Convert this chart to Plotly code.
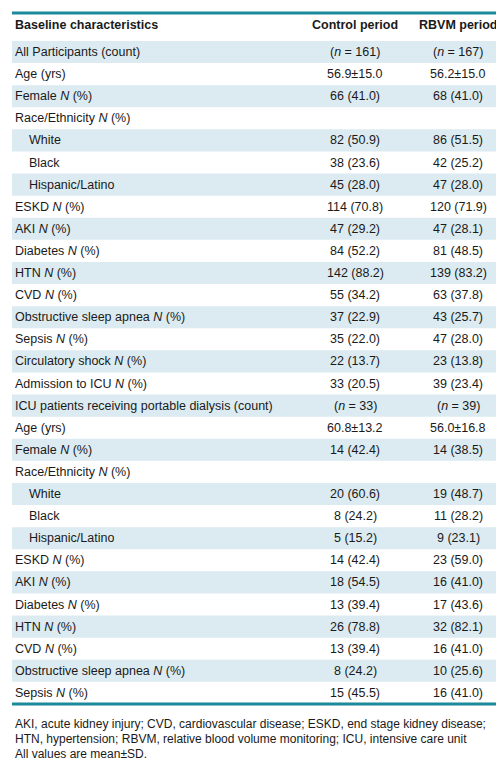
import plotly.graph_objects as go

NB = "\u00a0" * 4
labels = [
    "All Participants (count)", "Age (yrs)", "Female <i>N</i> (%)", "Race/Ethnicity <i>N</i> (%)",
    NB + "White", NB + "Black", NB + "Hispanic/Latino",
    "ESKD <i>N</i> (%)", "AKI <i>N</i> (%)", "Diabetes <i>N</i> (%)", "HTN <i>N</i> (%)", "CVD <i>N</i> (%)",
    "Obstructive sleep apnea <i>N</i> (%)", "Sepsis <i>N</i> (%)", "Circulatory shock <i>N</i> (%)",
    "Admission to ICU <i>N</i> (%)", "ICU patients receiving portable dialysis (count)",
    "Age (yrs)", "Female <i>N</i> (%)", "Race/Ethnicity <i>N</i> (%)",
    NB + "White", NB + "Black", NB + "Hispanic/Latino",
    "ESKD <i>N</i> (%)", "AKI <i>N</i> (%)", "Diabetes <i>N</i> (%)", "HTN <i>N</i> (%)", "CVD <i>N</i> (%)",
    "Obstructive sleep apnea <i>N</i> (%)", "Sepsis <i>N</i> (%)",
]
control = [
    "(<i>n</i> = 161)", "56.9±15.0", "66 (41.0)", "", "82 (50.9)", "38 (23.6)", "45 (28.0)",
    "114 (70.8)", "47 (29.2)", "84 (52.2)", "142 (88.2)", "55 (34.2)", "37 (22.9)", "35 (22.0)",
    "22 (13.7)", "33 (20.5)", "(<i>n</i> = 33)", "60.8±13.2", "14 (42.4)", "",
    "20 (60.6)", "8 (24.2)", "5 (15.2)", "14 (42.4)", "18 (54.5)", "13 (39.4)", "26 (78.8)",
    "13 (39.4)", "8 (24.2)", "15 (45.5)",
]
rbvm = [
    "(<i>n</i> = 167)", "56.2±15.0", "68 (41.0)", "", "86 (51.5)", "42 (25.2)", "47 (28.0)",
    "120 (71.9)", "47 (28.1)", "81 (48.5)", "139 (83.2)", "63 (37.8)", "43 (25.7)", "47 (28.0)",
    "23 (13.8)", "39 (23.4)", "(<i>n</i> = 39)", "56.0±16.8", "14 (38.5)", "",
    "19 (48.7)", "11 (28.2)", "9 (23.1)", "23 (59.0)", "16 (41.0)", "17 (43.6)", "32 (82.1)",
    "16 (41.0)", "10 (25.6)", "16 (41.0)",
]
headers = ["<b>Baseline characteristics</b>", "<b>Control period</b>", "<b>RBVM period</b>"]
foot = ["AKI, acute kidney injury; CVD, cardiovascular disease; ESKD, end stage kidney disease;",
        "HTN, hypertension; RBVM, relative blood volume monitoring; ICU, intensive care unit",
        "All values are mean±SD."]

W, H = 504, 762
RH = 22.1  # row height in px
y0 = 44    # pixel centre of first row
def ry(px):
    return (px - y0) / RH

teal = "#1b8a9a"
stripe = "#dcebf1"
font = dict(family="Liberation Sans, Arial", size=12.5, color="#1a1a1a")
col_x = [5, 347, 450]

fig = go.Figure()
for i in range(len(labels)):
    if i % 2 == 0:
        fig.add_shape(type="rect", x0=4, x1=500, y0=i - 0.5, y1=i + 0.5,
                      fillcolor=stripe, line_width=0, layer="below")
for col, vals in enumerate([labels, control, rbvm]):
    for i, v in enumerate(vals):
        if v:
            fig.add_annotation(x=col_x[col], y=i, text=v, showarrow=False, font=font,
                               xanchor="left" if col == 0 else "center", yanchor="middle")
for col, h in enumerate(headers):
    fig.add_annotation(x=col_x[col], y=ry(17), text=h, showarrow=False, font=font,
                       xanchor="left" if col == 0 else "center", yanchor="middle")
for py in [5, 696]:
    fig.add_shape(type="line", x0=4, x1=500, y0=ry(py), y1=ry(py),
                  line=dict(color=teal, width=3))
for i, t in enumerate(foot):
    fig.add_annotation(x=5, y=ry(716 + 15 * i), text=t, showarrow=False,
                       xanchor="left", yanchor="middle",
                       font=dict(family="Liberation Sans, Arial", size=12, color="#1a1a1a"))

fig.update_xaxes(range=[0, W], visible=False, fixedrange=True)
fig.update_yaxes(range=[ry(H), ry(0)], visible=False, fixedrange=True)
fig.update_layout(width=W, height=H, margin=dict(l=0, r=0, t=0, b=0),
                  paper_bgcolor="white", plot_bgcolor="white")
fig.write_html("out.html")
